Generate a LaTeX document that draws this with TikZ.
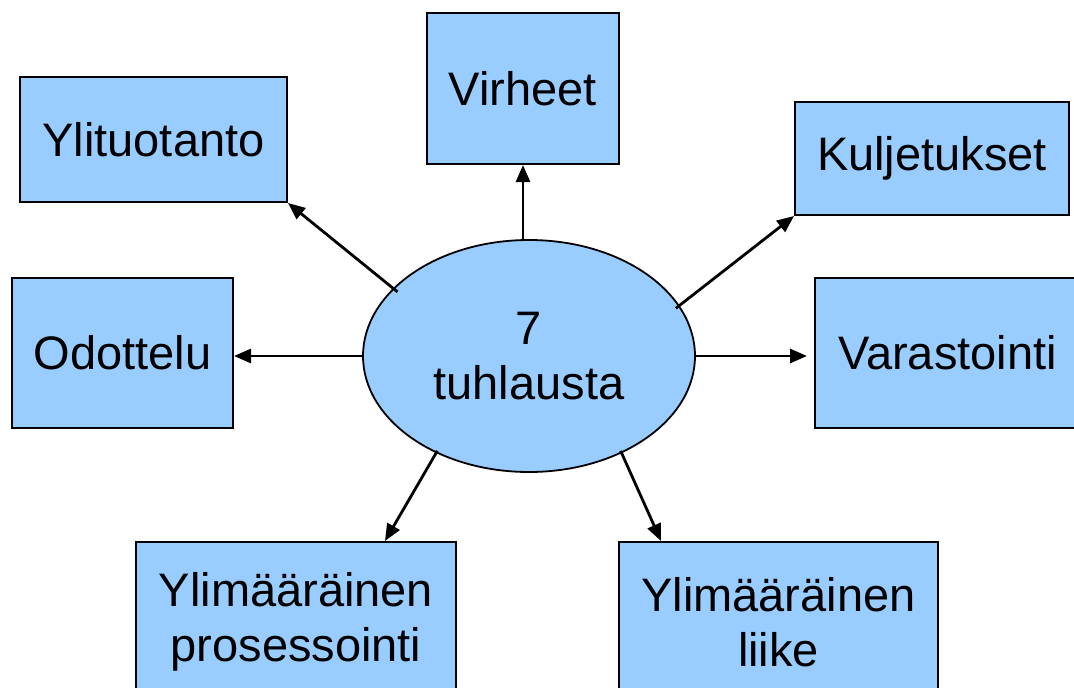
\documentclass[tikz,border=0pt]{standalone}
\usepackage{fontspec}
\setmainfont{Liberation Sans}
\usetikzlibrary{shapes.geometric,arrows.meta,calc}
\definecolor{boxblue}{HTML}{99CCFF}
\tikzset{
  wastebox/.style={draw=black, line width=2pt, fill=boxblue, rectangle, inner sep=0pt,
    align=center, font=\fontsize{47}{55}\selectfont},
  hub/.style={draw=black, line width=1.8pt, fill=boxblue, ellipse, inner sep=0pt,
    minimum width=332pt, minimum height=232pt, align=center, font=\fontsize{47}{55}\selectfont},
  arr/.style={line width=2.8pt, -{Triangle[length=17pt,width=14pt]}}
}
\begin{document}
\begin{tikzpicture}[x=1pt,y=-1pt]
\useasboundingbox (0,0) rectangle (1074,688);
\clip (0,0) rectangle (1074,688);
\node[hub] (e) at (529,356) {7\\tuhlausta};
\node[wastebox, minimum width=267pt, minimum height=125pt] (ylit) at (153.5,139.5) {Ylituotanto};
\node[wastebox, minimum width=192pt, minimum height=151pt] (virh) at (523,88.5) {Virheet};
\node[wastebox, minimum width=274pt, minimum height=113pt] (kulj) at (932,158.5) {Kuljetukset};
\node[wastebox, minimum width=221pt, minimum height=150pt] (odot) at (122.5,353) {Odottelu};
\node[wastebox, minimum width=265pt, minimum height=150pt] (vara) at (947.5,353) {Varastointi};
\node[wastebox, minimum width=320pt, minimum height=160pt] (pros) at (296,622) {Ylimääräinen\\prosessointi};
\node[wastebox, minimum width=319pt, minimum height=160pt] (liik) at (778.5,622) {Ylimääräinen\\liike};
\draw[arr] ($(e.center)!0.96!(e.154)$) -- (ylit.south east);
\draw[arr] (virh.south |- e.north) -- (virh.south);
\draw[arr] ($(e.center)!0.97!(e.18)$) -- (kulj.south west);
\draw[arr] (e.west) -- (e.west -| odot.east);
\draw[arr, shorten >=7pt] (e.east) -- (e.east -| vara.west);
\draw[arr] ($(e.center)!0.98!(e.226)$) -- ([xshift=250pt]pros.north west);
\draw[arr] ($(e.center)!0.98!(e.314)$) -- ([xshift=43pt]liik.north west);
\end{tikzpicture}
\end{document}
